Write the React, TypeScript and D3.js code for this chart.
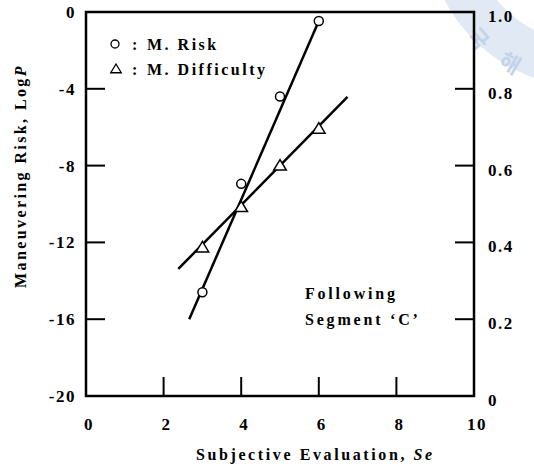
import React, { useRef, useEffect } from "react";
import { select, scaleLinear, line } from "d3";

const seValues = [3, 4, 5, 6];
const riskLogP = [-14.6, -8.95, -4.4, -0.47];
const difficultyValues = [0.387, 0.492, 0.6, 0.696];

// fitted straight lines (end points)
const riskFitSe = [2.66, 6.0];
const riskFitLogP = [-16.0, -0.47];
const diffFitSe = [2.38, 6.74];
const diffFitValue = [0.331, 0.779];

const xTickLabels = [0, 2, 4, 6, 8, 10];
const xTickMarks = [2, 4, 6, 8];
const leftTickLabels = [0, -4, -8, -12, -16, -20];
const leftTickMarks = [-4, -8, -12, -16];
const rightTickLabels = ["0", "0.2", "0.4", "0.6", "0.8", "1.0"];
const rightTickMarks = [0.2, 0.4, 0.6, 0.8];

const FONT = "'Liberation Serif', 'Times New Roman', serif";

const App: React.FC = () => {
  const width = 534;
  const height = 468;
  const left = 86;
  const right = 474;
  const top = 12;
  const bottom = 396;
  const tick = 19;
  const svgRef = useRef<SVGSVGElement>(null);

  useEffect(() => {
    const x = scaleLinear().domain([0, 10]).range([left, right]);
    const yL = scaleLinear().domain([-20, 0]).range([bottom, top]);
    const yR = scaleLinear().domain([0, 1]).range([bottom, top]);

    const svg = select(svgRef.current);
    svg.selectAll("*").remove();

    // watermark in the corner
    const wm = svg.append("g").attr("class", "watermark");
    wm.append("circle")
      .attr("cx", 588)
      .attr("cy", -75)
      .attr("r", 140)
      .attr("fill", "none")
      .attr("stroke", "#e0e9f4")
      .attr("stroke-width", 44);
    wm.append("text")
      .attr("transform", "translate(472,44) rotate(48)")
      .attr("text-anchor", "middle")
      .attr("font-family", "'Noto Sans CJK KR', sans-serif")
      .attr("font-weight", "bold")
      .attr("font-size", 22)
      .attr("fill", "#c3d3ea")
      .text("국");
    wm.append("text")
      .attr("transform", "translate(506,70) rotate(30)")
      .attr("text-anchor", "middle")
      .attr("font-family", "'Noto Sans CJK KR', sans-serif")
      .attr("font-weight", "bold")
      .attr("font-size", 22)
      .attr("fill", "#c3d3ea")
      .text("해");

    // frame
    svg.append("rect")
      .attr("x", left)
      .attr("y", top)
      .attr("width", right - left)
      .attr("height", bottom - top)
      .attr("fill", "none")
      .attr("stroke", "#000")
      .attr("stroke-width", 2.5);

    const ticks = svg.append("g").attr("stroke", "#000").attr("stroke-width", 2);
    ticks.selectAll(".xt")
      .data(xTickMarks)
      .join("line")
      .attr("x1", (d) => x(d))
      .attr("x2", (d) => x(d))
      .attr("y1", bottom)
      .attr("y2", bottom - tick);
    ticks.selectAll(".lt")
      .data(leftTickMarks)
      .join("line")
      .attr("x1", left)
      .attr("x2", left + tick)
      .attr("y1", (d) => yL(d))
      .attr("y2", (d) => yL(d));
    ticks.selectAll(".rt")
      .data(rightTickMarks)
      .join("line")
      .attr("x1", right)
      .attr("x2", right - tick)
      .attr("y1", (d) => yR(d))
      .attr("y2", (d) => yR(d));

    const labels = svg.append("g")
      .attr("font-family", FONT)
      .attr("font-weight", "bold")
      .attr("font-size", 17)
      .attr("letter-spacing", 1.5)
      .attr("fill", "#000");
    labels.selectAll(".xl")
      .data(xTickLabels)
      .join("text")
      .attr("x", (d) => x(d) + 3)
      .attr("y", 430)
      .attr("text-anchor", "middle")
      .text((d) => String(d));
    labels.selectAll(".ll")
      .data(leftTickLabels)
      .join("text")
      .attr("x", left - 10)
      .attr("y", (d) => yL(d))
      .attr("dy", "0.35em")
      .attr("text-anchor", "end")
      .text((d) => String(d));
    labels.selectAll(".rl")
      .data(rightTickLabels)
      .join("text")
      .attr("x", right + 14)
      .attr("y", (d) => yR(+d) + 4)
      .attr("dy", "0.35em")
      .text((d) => d);

    // fitted lines
    const riskLine = line<number>()
      .x((d, i) => x(riskFitSe[i]))
      .y((d) => yL(d));
    const diffLine = line<number>()
      .x((d, i) => x(diffFitSe[i]))
      .y((d) => yR(d));
    svg.append("path")
      .attr("d", riskLine(riskFitLogP))
      .attr("fill", "none")
      .attr("stroke", "#000")
      .attr("stroke-width", 2.5);
    svg.append("path")
      .attr("d", diffLine(diffFitValue))
      .attr("fill", "none")
      .attr("stroke", "#000")
      .attr("stroke-width", 2.5);

    // markers
    svg.selectAll(".risk")
      .data(riskLogP)
      .join("circle")
      .attr("cx", (d, i) => x(seValues[i]))
      .attr("cy", (d) => yL(d))
      .attr("r", 4.5)
      .attr("fill", "#fff")
      .attr("stroke", "#000")
      .attr("stroke-width", 1.5);
    const tri = (cx: number, cy: number, s: number) =>
      `M${cx},${cy - s}L${cx + s * 1.05},${cy + s * 0.75}L${cx - s * 1.05},${cy + s * 0.75}Z`;
    svg.selectAll(".diff")
      .data(difficultyValues)
      .join("path")
      .attr("d", (d, i) => tri(x(seValues[i]), yR(d), 6))
      .attr("fill", "#fff")
      .attr("stroke", "#000")
      .attr("stroke-width", 1.5);

    // legend
    svg.append("circle")
      .attr("cx", 115)
      .attr("cy", 44)
      .attr("r", 4)
      .attr("fill", "#fff")
      .attr("stroke", "#000")
      .attr("stroke-width", 1.3);
    svg.append("path")
      .attr("d", tri(116, 69, 5))
      .attr("fill", "#fff")
      .attr("stroke", "#000")
      .attr("stroke-width", 1.3);
    const legend = svg.append("g")
      .attr("font-family", FONT)
      .attr("font-weight", "bold")
      .attr("font-size", 16)
      .attr("letter-spacing", 2.5);
    legend.append("text").attr("x", 132).attr("y", 50).text(":");
    legend.append("text").attr("x", 147).attr("y", 50).text("M. Risk");
    legend.append("text").attr("x", 132).attr("y", 75).text(":");
    legend.append("text").attr("x", 147).attr("y", 75).text("M. Difficulty");

    // annotation
    const note = svg.append("g")
      .attr("font-family", FONT)
      .attr("font-weight", "bold")
      .attr("font-size", 16)
      .attr("letter-spacing", 2.8);
    note.append("text").attr("x", 305).attr("y", 299).text("Following");
    note.append("text").attr("x", 305).attr("y", 325).text("Segment \u2018C\u2019");

    // axis titles
    const xt = svg.append("text")
      .attr("x", 196)
      .attr("y", 460)
      .attr("font-family", FONT)
      .attr("font-weight", "bold")
      .attr("font-size", 16)
      .attr("letter-spacing", 2.6);
    xt.append("tspan").text("Subjective Evaluation, ");
    xt.append("tspan").attr("font-style", "italic").text("Se");

    const yt = svg.append("text")
      .attr("transform", "translate(26,176) rotate(-90)")
      .attr("text-anchor", "middle")
      .attr("font-family", FONT)
      .attr("font-weight", "bold")
      .attr("font-size", 16)
      .attr("letter-spacing", 2.4);
    yt.append("tspan").text("Maneuvering Risk, Log");
    yt.append("tspan").attr("font-style", "italic").text("P");
  });

  return (
    <svg
      ref={svgRef}
      width={width}
      height={height}
      style={{ position: "absolute", left: 0, top: 0, background: "#fff" }}
    ></svg>
  );
};

export default App;
